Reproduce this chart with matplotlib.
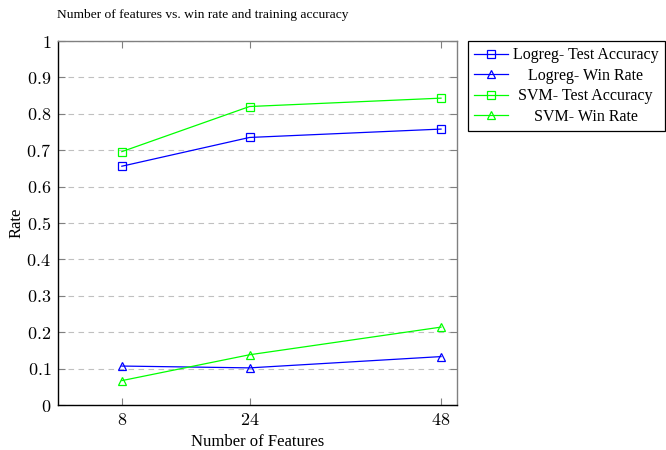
import numpy as np
import matplotlib
matplotlib.use("Agg")
import matplotlib.pyplot as plt
from matplotlib.ticker import FixedLocator, FuncFormatter

# values
features = [8, 24, 48]
logreg_acc = [0.656, 0.735, 0.758]
logreg_win = [0.107, 0.102, 0.133]
svm_acc = [0.696, 0.820, 0.843]
svm_win = [0.067, 0.138, 0.214]
y_ticks = [0, 0.1, 0.2, 0.3, 0.4, 0.5, 0.6, 0.7, 0.8, 0.9, 1]

plt.rcParams['font.family'] = ['Liberation Serif', 'DejaVu Serif']
plt.rcParams['mathtext.fontset'] = 'cm'

BLUE = (0, 0, 1)
GREEN = (0, 1, 0)
GRAY = '#808080'

fig = plt.figure(figsize=(6.66, 4.5), dpi=100)
ax = fig.add_axes([58 / 666, 1 - 405 / 450, 399 / 666, 364 / 450])

kw = dict(lw=0.9, markersize=5.5, markerfacecolor='none', markeredgewidth=0.9)
ax.plot(features, logreg_acc, color=BLUE, marker='s', label='Logreg- Test Accuracy', **kw)
ax.plot(features, logreg_win, color=BLUE, marker='^', label='Logreg- Win Rate', **kw)
ax.plot(features, svm_acc, color=GREEN, marker='s', label='SVM- Test Accuracy', **kw)
ax.plot(features, svm_win, color=GREEN, marker='^', label='SVM- Win Rate', **kw)

ax.set_xlim(0, 50)
ax.set_ylim(0, 1)
ax.xaxis.set_major_locator(FixedLocator(features))
ax.yaxis.set_major_locator(FixedLocator(y_ticks))
ax.xaxis.set_major_formatter(FuncFormatter(lambda v, p: r'$%d$' % v))
ax.yaxis.set_major_formatter(FuncFormatter(lambda v, p: r'$%g$' % round(v, 1)))
ax.tick_params(direction='in', length=5, width=0.8, color=GRAY,
               top=True, right=True, labelsize=13, pad=5)
ax.yaxis.grid(True, linestyle=(0, (5, 4)), color='#c0c0c0', lw=0.8)

for s in ['left', 'bottom']:
    ax.spines[s].set_color('black')
    ax.spines[s].set_linewidth(1.0)
for s in ['top', 'right']:
    ax.spines[s].set_color(GRAY)
    ax.spines[s].set_linewidth(1.0)

ax.set_xlabel('Number of Features', fontsize=12, labelpad=4)
ax.set_ylabel('Rate', fontsize=12, labelpad=1)

fig.text(57 / 666, 1 - 15 / 450, 'Number of features vs. win rate and training accuracy',
         fontsize=9.7, ha='left', va='center')

leg = ax.legend(loc='upper left', bbox_to_anchor=(468 / 666, 1 - 41 / 450),
                bbox_transform=fig.transFigure, borderaxespad=0, fontsize=11.5,
                frameon=True, fancybox=False, edgecolor='black', framealpha=1,
                handlelength=2.1, handletextpad=0.3, labelspacing=0.28,
                borderpad=0.4)
leg.get_frame().set_linewidth(0.9)

# centre the legend entries like pgfplots does
fig.canvas.draw()
r = fig.canvas.get_renderer()
widths = [t.get_window_extent(r).width for t in leg.get_texts()]
wmax = max(widths)
for t, w in zip(leg.get_texts(), widths):
    t.set_x((wmax - w) / 2)

fig.savefig('out.png', dpi=100)
